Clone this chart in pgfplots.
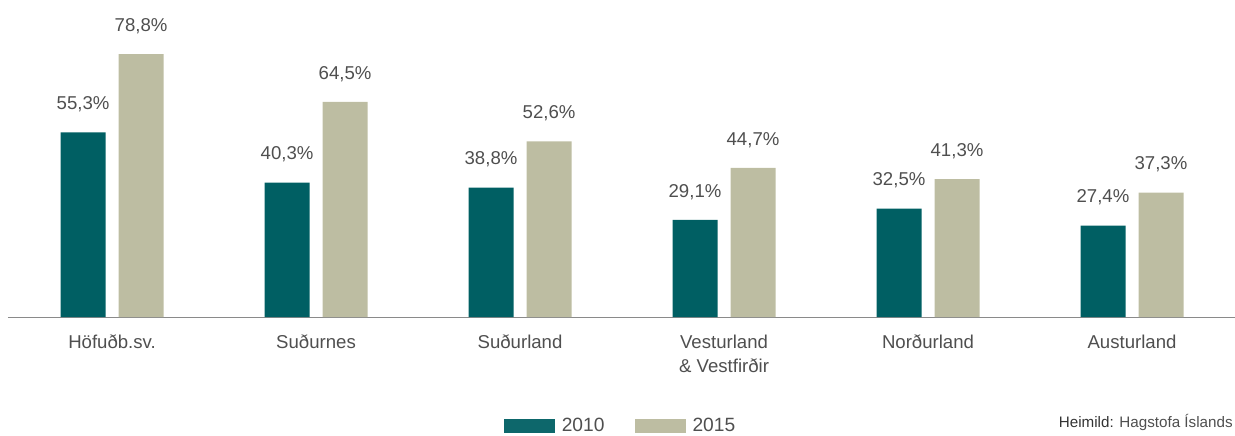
\documentclass[border=0pt]{standalone}
\usepackage{pgfplots}
\pgfplotsset{compat=1.18}
\usepackage{fontspec}
\setmainfont{Liberation Sans}
\definecolor{teal1}{HTML}{005F63}
\definecolor{beige1}{HTML}{BDBDA2}
\definecolor{txt}{HTML}{4F4F4F}
\definecolor{axl}{HTML}{8A8A8A}
\begin{document}
\begin{tikzpicture}
\useasboundingbox (-4pt,-59pt) rectangle (613.5pt,158.5pt);
\begin{axis}[
  at={(0pt,0pt)}, anchor=south west,
  width=613.5pt, height=158.5pt, scale only axis,
  /pgf/number format/assume math mode=true,
  ybar, bar width=22.5pt,
  ymin=0, ymax=95,
  xmin=-0.51, xmax=5.505,
  hide y axis,
  axis x line*=bottom,
  x axis line style={-, draw=axl, line width=0.5pt},
  xtick={0,1,2,3,4,5},
  xticklabels={Höfuðb.sv., Suðurnes, Suðurland, {Vesturland\\\& Vestfirðir}, Norðurland, Austurland},
  xticklabel style={align=center, font=\fontsize{9.3}{12}\selectfont, text=txt, yshift=-5.5pt},
  major tick length=0pt,
  nodes near coords={\pgfmathprintnumber[fixed,fixed zerofill,precision=1,use comma,assume math mode=true]{\pgfplotspointmeta}\%},
  every node near coord/.append style={anchor=center, yshift=14pt, font=\fontsize{9.3}{11}\selectfont, text=txt},
  legend style={at={(0.5,-0.344)}, anchor=center, draw=none, fill=none, legend columns=2,
    font=\fontsize{9.6}{11}\selectfont, text=txt,
    /tikz/every even column/.append style={column sep=13pt},
    /tikz/every odd column/.append style={column sep=1.5pt}},
  clip=false,
]
\addplot[fill=teal1, draw=none, bar shift=-14.5pt,
  legend image code/.code={\fill[teal1!95!white] (0pt,-3.6pt) rectangle (25.5pt,3.6pt);}]
  coordinates {(0,55.3) (1,40.3) (2,38.8) (3,29.1) (4,32.5) (5,27.4)};
\addlegendentry{2010}
\addplot[fill=beige1, draw=none, bar shift=14.5pt,
  legend image code/.code={\fill[beige1] (0pt,-3.6pt) rectangle (25.5pt,3.6pt);}]
  coordinates {(0,78.8) (1,64.5) (2,52.6) (3,44.7) (4,41.3) (5,37.3)};
\addlegendentry{2015}
\node[anchor=east, inner sep=0pt, font=\fontsize{7.6}{9}\selectfont, text=txt] at (rel axis cs:0.9984,-0.334) {{\color{black!80}Heimild:} Hagstofa Íslands};
\end{axis}
\end{tikzpicture}
\end{document}
